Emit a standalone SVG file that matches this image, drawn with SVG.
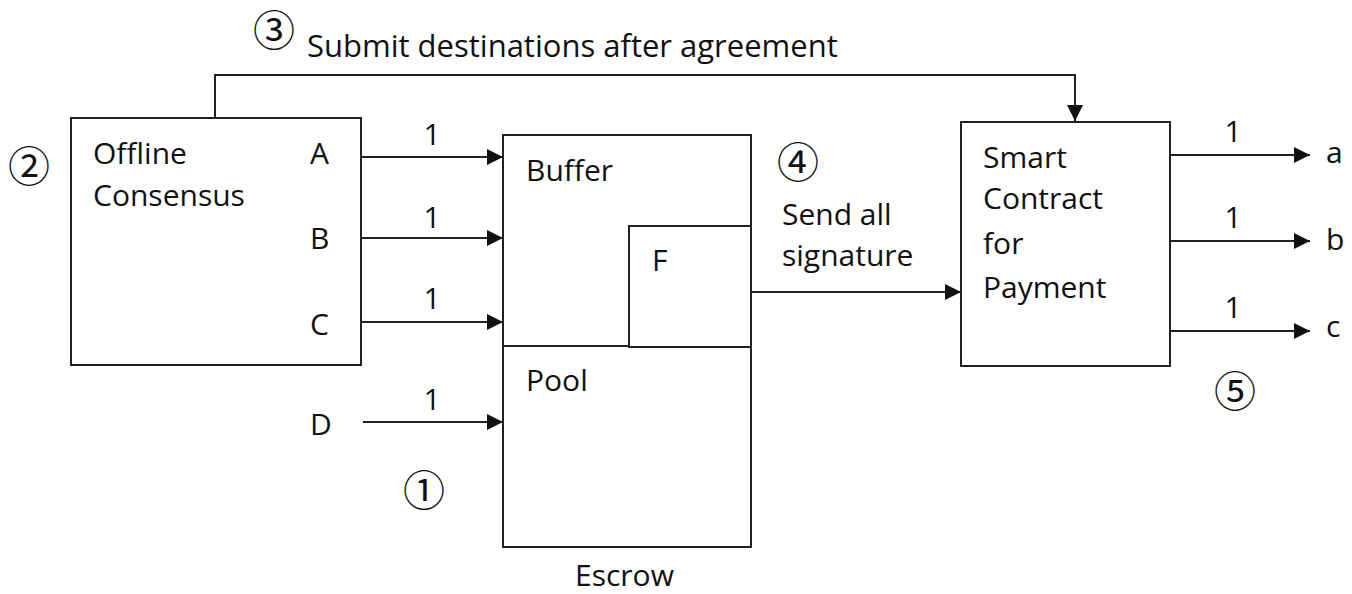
<svg xmlns="http://www.w3.org/2000/svg" width="1352" height="594" viewBox="0 0 1352 594">
<defs>
<marker id="ah" markerUnits="userSpaceOnUse" markerWidth="16" markerHeight="16" refX="16" refY="8" orient="auto">
<path d="M0,0 L16,8 L0,16 z" fill="#111"/>
</marker>
<style>
.box{fill:#fff;stroke:#222;stroke-width:2}
.ln{fill:none;stroke:#222;stroke-width:2}
.con{fill:none;stroke:#222;stroke-width:2;marker-end:url(#ah)}
text{font-family:"Open Sans","Liberation Sans",sans-serif;font-size:30px;fill:#111}
.c{font-family:"Noto Sans CJK JP","Noto Sans CJK SC",sans-serif;font-size:42px;text-anchor:middle}
.m{text-anchor:middle}
</style>
</defs>
<rect width="1352" height="594" fill="#fff"/>
<g id="connectors">
<path class="con" d="M215,118 V75 H1075 V121"/>
<path class="con" d="M361,157 H503"/>
<path class="con" d="M361,238 H503"/>
<path class="con" d="M361,322 H503"/>
<path class="con" d="M363,422 H503"/>
<path class="con" d="M751,292 H961"/>
<path class="con" d="M1170,155 H1310"/>
<path class="con" d="M1170,241 H1310"/>
<path class="con" d="M1170,331 H1310"/>
<text class="m" x="432" y="145">1</text>
<text class="m" x="432" y="228">1</text>
<text class="m" x="432" y="309">1</text>
<text class="m" x="432" y="410">1</text>
<text class="m" x="1233" y="142">1</text>
<text class="m" x="1233" y="228">1</text>
<text class="m" x="1233" y="318">1</text>
<text x="307" y="57" style="font-size:31px">Submit destinations after agreement</text>
<text x="782" y="225">Send all</text>
<text x="782" y="266">signature</text>
</g>
<g id="offline">
<rect class="box" x="71" y="118" width="290" height="247"/>
<text x="93" y="164">Offline</text>
<text x="93" y="206">Consensus</text>
<text x="310" y="164">A</text>
<text x="310" y="249">B</text>
<text x="310" y="335">C</text>
</g>
<g id="D"><text x="310" y="435">D</text></g>
<g id="escrow">
<rect class="box" x="503" y="135" width="248" height="412"/>
<line class="ln" x1="503" y1="346" x2="629" y2="346"/>
<text x="526" y="181">Buffer</text>
<text x="526" y="391">Pool</text>
<text x="575" y="586">Escrow</text>
</g>
<g id="F">
<rect class="box" x="629" y="226" width="122" height="121"/>
<text x="652" y="271">F</text>
</g>
<g id="smart">
<rect class="box" x="961" y="122" width="209" height="244"/>
<text x="983" y="168">Smart</text>
<text x="983" y="209">Contract</text>
<text x="983" y="254">for</text>
<text x="983" y="298">Payment</text>
</g>
<g id="outputs">
<text x="1326" y="163">a</text>
<text x="1326" y="250">b</text>
<text x="1326" y="337">c</text>
</g>
<g id="steps">
<text class="c" x="424" y="506">①</text>
<text class="c" x="29" y="182">②</text>
<text class="c" x="274" y="46">③</text>
<text class="c" x="798" y="178">④</text>
<text class="c" x="1235" y="407">⑤</text>
</g>
</svg>
